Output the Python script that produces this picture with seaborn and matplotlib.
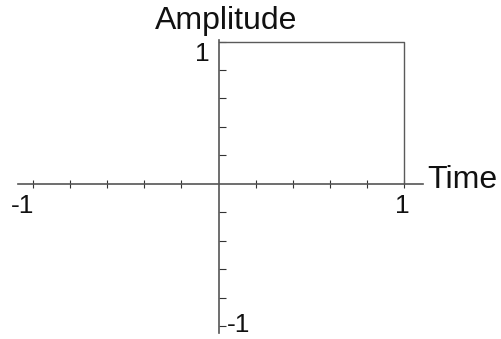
"""plot.py

Rectangular pulse drawn on axes that cross at the origin.
"""

import matplotlib.pyplot as plt
import pandas as pd
import seaborn as sns

# Pulse shape: amplitude 1 from t=0 to t=1, then back down to 0
pulse_time = [0, 1, 1]
pulse_amplitude = [1, 1, 0]

# Tick marks on both axes (the origin has no tick)
tick_values = [-1, -0.8, -0.6, -0.4, -0.2, 0.2, 0.4, 0.6, 0.8, 1]

# Axis titles and the few labelled ticks
x_title = 'Time'
y_title = 'Amplitude'
x_tick_labels = ['-1', '1']
y_tick_labels = ['1', '-1']

W, H = 501, 339

sns.set_style('white')
plt.rcParams['font.family'] = ['Liberation Sans', 'DejaVu Sans']

fig = plt.figure(figsize=(W / 100, H / 100), dpi=100)
ax = fig.add_axes([33 / W, (H - 326) / H, 371 / W, 284.5 / H])

data = pd.DataFrame({'time': pulse_time, 'amplitude': pulse_amplitude})
sns.lineplot(data=data, x='time', y='amplitude', sort=False, estimator=None,
             color='#5a5a5a', linewidth=1.0, ax=ax)
for line in ax.lines:
    line.set_clip_on(False)

ax.set_xlim(-1, 1)
ax.set_ylim(-1, 1)
ax.set(xlabel='', ylabel='')

# Axes through the origin
for side in ['top', 'right']:
    ax.spines[side].set_visible(False)
ax.spines['left'].set_position(('data', 0))
ax.spines['bottom'].set_position(('data', 0))
ax.spines['bottom'].set_bounds(-1.08, 1.1)
ax.spines['left'].set_bounds(-1.05, 1.01)
for side in ['left', 'bottom']:
    ax.spines[side].set_color('#555555')
    ax.spines[side].set_linewidth(1.2)

ax.set_xticks(tick_values)
ax.set_yticks(tick_values)
ax.tick_params(axis='x', bottom=True, direction='inout', length=6, width=0.8,
               color='#333333', labelbottom=False)
ax.tick_params(axis='y', left=True, direction='in', length=5, width=0.8,
               color='#333333', labelleft=False)

# Titles and tick labels placed where the reference shows them
text_style = dict(color='#111111', va='baseline')
fig.text(226 / W, 1 - 29 / H, y_title, fontsize=23, ha='center', **text_style)
fig.text(427 / W, 1 - 188 / H, x_title, fontsize=23, ha='left', **text_style)
fig.text(34 / W, 1 - 213 / H, x_tick_labels[0], fontsize=19, ha='right', **text_style)
fig.text(402.5 / W, 1 - 213 / H, x_tick_labels[1], fontsize=19, ha='center', **text_style)
fig.text(210 / W, 1 - 61 / H, y_tick_labels[0], fontsize=19, ha='right', **text_style)
fig.text(227 / W, 1 - 332 / H, y_tick_labels[1], fontsize=19, ha='left', **text_style)

fig.savefig('out.png', dpi=100)
